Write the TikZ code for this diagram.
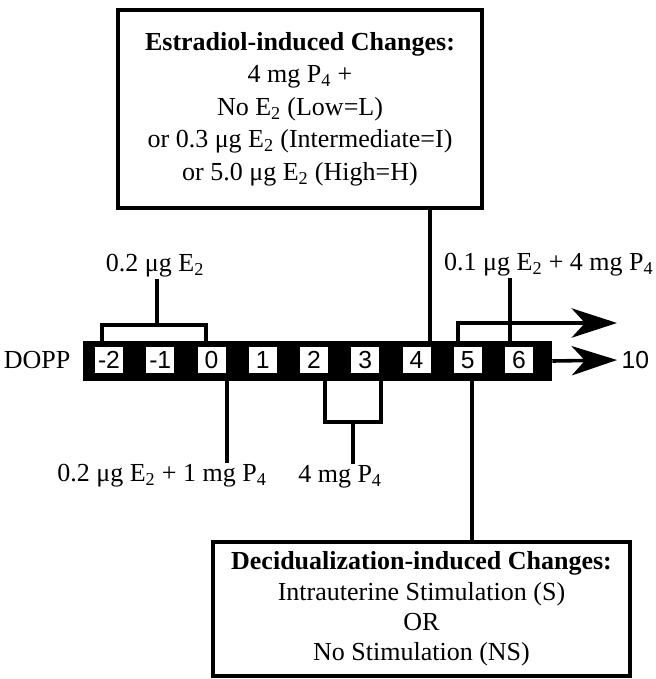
\documentclass[tikz,border=0pt]{standalone}
\usepackage{fontspec}
\setmainfont{Liberation Serif}
\newfontfamily\cellfont{Liberation Sans}
\usetikzlibrary{arrows.meta}

\tikzset{
  wire/.style={line width=2.7pt},
  dose/.style={font=\fontsize{19.5}{24}\selectfont, inner sep=1pt},
  daycell/.style={fill=white, inner sep=0pt, minimum width=21pt, minimum height=19pt,
    font=\cellfont\fontsize{18.5}{18.5}\selectfont},
  infobox/.style={draw, line width=2.7pt, align=center, inner sep=0pt},
  bigarrow/.style={-{Stealth[length=34pt,width=22pt,inset=10pt]}},
}

\begin{document}
\begin{tikzpicture}[x=0.75pt, y=-0.75pt]
  \useasboundingbox (0,0) rectangle (656,679);

  % day bar
  \node[fill=black, minimum width=351.75pt, minimum height=30pt, inner sep=0pt] (bar) at (317.5,361) {};
  \foreach \d [count=\i from 0] in {-2,-1,0,1,2,3,4,5,6}
    \node[daycell] (c\d) at (109+51.25*\i,360) {\d};
  \node[dose, anchor=east] (dopp) at (72,360) {DOPP};
  \node[daycell, fill=none, anchor=west] (ten) at (621,360) {10};
  \draw[wire, bigarrow] (bar.east) -- ([xshift=-3pt]ten.west);

  % boxes
  \node[dose, infobox, minimum width=273pt, minimum height=148.5pt,
    font=\fontsize{19.5}{24.4}\selectfont] (estr) at (300,109)
    {\textbf{Estradiol-induced Changes:}\\4 mg P\textsubscript{4} +\\No E\textsubscript{2} (Low=L)\\
     or 0.3 μg E\textsubscript{2} (Intermediate=I)\\or 5.0 μg E\textsubscript{2} (High=H)};
  \node[dose, infobox, minimum width=312.75pt, minimum height=100.5pt,
    font=\fontsize{19.5}{22.75}\selectfont] (decid) at (421.5,609)
    {\textbf{Decidualization-induced Changes:}\\Intrauterine Stimulation (S)\\OR\\No Stimulation (NS)};

  \coordinate (up4) at (430,0);
  \coordinate (dn5) at (472,0);
  \draw[wire] (estr.south -| up4) -- (up4 |- bar.north);
  \draw[wire] (dn5 |- bar.south) -- (dn5 |- decid.north);

  % treatments above
  \node[dose] (pre) at (155,266) {0.2 μg E\textsubscript{2}};
  \coordinate (pa) at (102,325);
  \coordinate (pm) at (157,325);
  \coordinate (pb) at (206,325);
  \draw[wire] (pa |- bar.north) -- (pa) -- (pb) -- (pb |- bar.north);
  \draw[wire] (pm) -- (pre.south -| pm);

  \node[dose, anchor=east] (late) at (655,265) {0.1 μg E\textsubscript{2} + 4 mg P\textsubscript{4}};
  \coordinate (qa) at (458,323);
  \coordinate (qm) at (510,323);
  \coordinate (qt) at (617,323);
  \draw[wire, bigarrow] (qa |- bar.north) -- (qa) -- (qt);
  \draw[wire] (late.south -| qm) -- (qm |- bar.north);

  % treatments below
  \node[dose] (early) at (162,476) {0.2 μg E\textsubscript{2} + 1 mg P\textsubscript{4}};
  \coordinate (ra) at (227,0);
  \draw[wire] (ra |- bar.south) -- (ra |- early.north);

  \node[dose] (mid) at (340,477) {4 mg P\textsubscript{4}};
  \coordinate (sa) at (325,422);
  \coordinate (sm) at (353,422);
  \coordinate (sb) at (381,422);
  \draw[wire] (sa |- bar.south) -- (sa) -- (sb) -- (sb |- bar.south);
  \draw[wire] (sm) -- (mid.north -| sm);
\end{tikzpicture}
\end{document}
